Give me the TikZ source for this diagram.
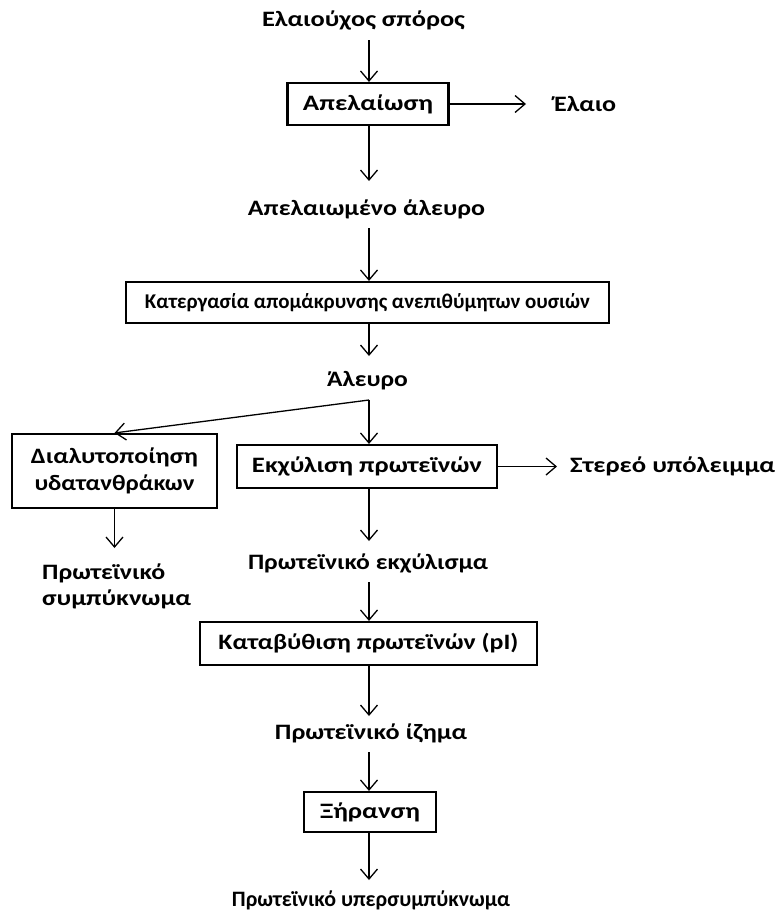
\documentclass[tikz,border=0pt]{standalone}
\usepackage{fontspec}
\usepackage{graphicx}
\setmainfont{Carlito}
\usetikzlibrary{arrows.meta}
% set a line of text to a given width (in pt), keeping its height
\newcommand\fitw[2]{\resizebox{#1pt}{\height}{#2}}
\begin{document}
\begin{tikzpicture}[x=1pt,y=-1pt,
  txt/.style={font=\fontsize{22}{26}\selectfont\bfseries, inner sep=0pt},
  procbox/.style={draw, line width=2.1pt, minimum height=42pt, inner sep=0pt, font=\fontsize{22}{26}\selectfont\bfseries},
  flow/.style={line width=1.3pt, -{Straight Barb[length=10pt,width=17pt,line width=1.3pt]}}
]
\useasboundingbox (0,0) rectangle (777,913);

% main column
\node[txt] (seed) at (363.5,20) {\fitw{203}{Ελαιούχος σπόρος}};
\node[procbox, minimum width=161pt] (deoil) at (368,104) {\fitw{130}{Απελαίωση}};
\node[txt, anchor=west] (oil) at (554,104) {\fitw{62}{Έλαιο}};
\node[txt] (meal) at (366.5,209) {\fitw{237}{Απελαιωμένο άλευρο}};
\node[procbox, minimum width=483pt, minimum height=41pt, font=\fontsize{21}{25}\selectfont\bfseries] (remove) at (367.5,302.5) {\fitw{445}{Κατεργασία απομάκρυνσης ανεπιθύμητων ουσιών}};
\node[txt] (flour) at (367.5,381) {\fitw{81}{Άλευρο}};
\node[procbox, minimum width=260pt, minimum height=43pt] (extract) at (367,466.5) {\fitw{230}{Εκχύλιση πρωτεϊνών}};
\node[txt, anchor=west] (residue) at (570,466.5) {\fitw{205}{Στερεό υπόλειμμα}};
\node[txt] (extr) at (368,563) {\fitw{240}{Πρωτεϊνικό εκχύλισμα}};
\node[procbox, minimum width=337pt, minimum height=43pt] (precip) at (368.5,643.5) {\fitw{300}{Καταβύθιση πρωτεϊνών (pI)}};
\node[txt] (sed) at (371,733) {\fitw{192}{Πρωτεϊνικό ίζημα}};
\node[procbox, minimum width=132pt, minimum height=40pt] (dry) at (370,812) {\fitw{100}{Ξήρανση}};
\node[txt] (iso) at (371,900) {\fitw{278}{Πρωτεϊνικό υπερσυμπύκνωμα}};

% side branch
\node[procbox, minimum width=205pt, minimum height=74pt, align=center, font=\fontsize{22}{27}\selectfont\bfseries] (solub) at (114.5,471) {\fitw{167}{Διαλυτοποίηση}\\\fitw{160}{υδατανθράκων}};
\node[txt, align=left, anchor=north west, font=\fontsize{22}{26}\selectfont\bfseries] (conc) at (42,564) {\fitw{123}{Πρωτεϊνικό}\\\fitw{149}{συμπύκνωμα}};

\coordinate (split) at (369,400);

% connectors
\draw[flow] (369,40) -- (deoil.north -| 369,0);
\draw[flow] (deoil.east) -- (oil.west -| 526,0);
\draw[flow] (deoil.south -| 369,0) -- (369,181);
\draw[flow] (369,228) -- (remove.north -| 369,0);
\draw[flow] (remove.south -| 369,0) -- (369,356);
\draw[flow] (split) -- (extract.north -| 369,0);
\draw[flow] (split) -- (solub.north);
\draw[flow] (extract.east) -- (557,466.5);
\draw[flow] (solub.south) -- (114.5,548);
\draw[flow] (extract.south -| 369,0) -- (369,541);
\draw[flow] (369,582) -- (precip.north -| 369,0);
\draw[flow] (precip.south -| 369,0) -- (369,716);
\draw[flow] (369,752) -- (dry.north -| 369,0);
\draw[flow] (dry.south -| 369,0) -- (369,880);
\end{tikzpicture}
\end{document}
